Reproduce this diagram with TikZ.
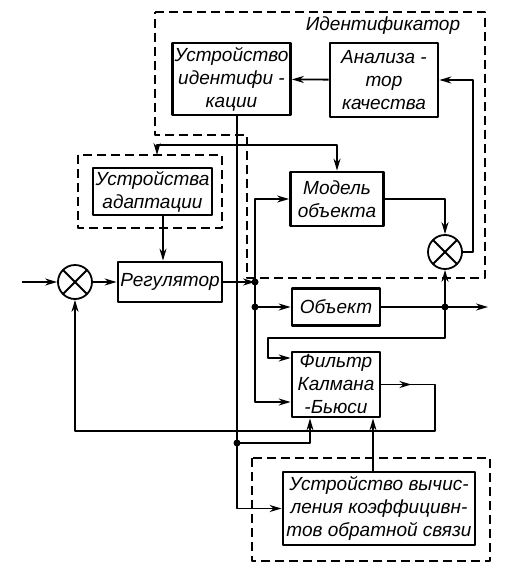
\documentclass[tikz,border=0pt]{standalone}
\usepackage{fontspec}
\setmainfont{Liberation Sans}
\usetikzlibrary{arrows.meta,calc}
\begin{document}
\begin{tikzpicture}[x=1pt,y=-1pt,line join=round,line width=1.8pt,
    >={Stealth[length=12pt,width=7pt]},
    font=\fontsize{19}{23}\selectfont\itshape,
    block/.style={draw,line width=2.8pt,align=center,inner sep=2pt},
    summer/.style={circle,draw,minimum size=34pt,inner sep=0pt,
      path picture={\draw (path picture bounding box.north west)--(path picture bounding box.south east)
        (path picture bounding box.north east)--(path picture bounding box.south west);}},
    grp/.style={draw,line width=1.6pt,dash pattern=on 9pt off 5pt},
    dot/.style={circle,fill,inner sep=0pt,minimum size=7pt}]
  \useasboundingbox (0,0) rectangle (518,570);
  % dashed groups
  \draw[grp] (155,12) -- (485,12) -- (485,278) -- (247,278) -- (247,135) -- (155,135) -- cycle;
  \node (idlabel) at (383,26) {Идентификатор};
  \draw[grp] (78,155) rectangle (222,228);
  \draw[grp] (252,458) rectangle (490,561);
  % blocks
  \node[block,minimum width=113,minimum height=72] (ident) at (231.5,79) {Устройство\\идентифи -\\кации};
  \node[block,minimum width=108,minimum height=74] (anal) at (384,80) {Анализа -\\тор\\качества};
  \node[block,minimum width=119,minimum height=47] (adapt) at (152.5,191.5) {Устройства\\адаптации};
  \node[block,minimum width=104,minimum height=40] (reg) at (170,282) {Регулятор};
  \node[block,minimum width=93,minimum height=54] (model) at (337,199) {Модель\\объекта};
  \node[block,minimum width=88,minimum height=37] (obj) at (336,307) {Объект};
  \node[block,minimum width=88,minimum height=65] (kalman) at (336,384.5) {Фильтр\\Калмана\\-Бьюси};
  \node[block,minimum width=192,minimum height=73] (vych) at (379,508.5) {Устройство вычис-\\ления коэффицивн-\\тов обратной связи};
  \node[summer] (sum1) at (75,282) {};
  \node[summer] (sum2) at (445,252) {};
  % points
  \coordinate (in) at (22,282);
  \coordinate (out) at (488,307);
  \coordinate (j1) at (255,282);
  \coordinate (j2) at (255,307);
  \coordinate (j3) at (445,307);
  \coordinate (j4) at (237,443);
  \coordinate (br) at (237,145);
  \coordinate (adtop) at (157,155);
  \coordinate (ar) at (163,240);
  \coordinate (rt) at (473,252);
  \coordinate (kb) at (310,443);
  \coordinate (kc) at (373,431);
  \coordinate (fb1) at (435,384.5);
  \coordinate (fb2) at (435,431);
  \coordinate (fb3) at (75,431);
  \coordinate (ka) at (445,338);
  \coordinate (kd) at (268,358);
  % connectors
  \draw[->] (in) -- (sum1);
  \draw[->] (sum1) -- (reg);
  \draw[->] (adapt.south -| ar) -- (reg.north -| ar);
  \draw[->] (reg) -- (j1);
  \draw[->] (j1) |- (model.west);
  \draw[->] (j1) -- (j2) -- (obj.west);
  \draw[->] (j2) |- ($(kalman.west)+(0,17.5)$);
  \draw (obj) -- (j3);
  \draw[->] (j3) -- (out);
  \draw[->] (j3) -- (sum2);
  \draw[->] (model) -| (sum2);
  \draw[->] (sum2.east) -- (rt) |- (anal.east);
  \draw[->] (anal) -- (ident);
  \draw (ident.south -| j4) -- (j4);
  \draw[->] (br) -| (adtop);
  \draw[->] (br) -| (model.north);
  \draw[->] (j4) -- (kb) -- (kb |- kalman.south);
  \draw[->] (j4) |- (vych);
  \draw[->] (kc |- vych.north) -- (kc |- kalman.south);
  \draw[->] (j3) -- (ka) -| (kd) -- (kd -| kalman.west);
  \draw[->] (kalman.east) -- ++(30,0);
  \draw[->] (kalman.east) -- (fb1) -- (fb2) -- (fb3) -- (sum1);
  % junctions
  \node[dot] (d1) at (j1) {};
  \node[dot] (d2) at (j2) {};
  \node[dot] (d3) at (j3) {};
  \node[dot] (d4) at (j4) {};
\end{tikzpicture}
\end{document}
